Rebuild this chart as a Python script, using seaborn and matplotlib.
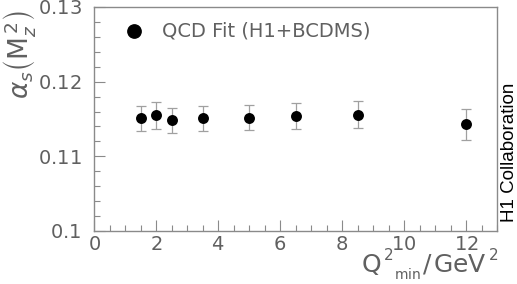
import matplotlib
matplotlib.use("Agg")
import matplotlib.pyplot as plt
import seaborn as sns
import pandas as pd
from matplotlib.ticker import MultipleLocator

q2min = [1.5, 2.0, 2.5, 3.5, 5.0, 6.5, 8.5, 12.0]
alpha_s = [0.1151, 0.1155, 0.1148, 0.1151, 0.1152, 0.1154, 0.1156, 0.1143]
err = [0.0017, 0.0018, 0.0017, 0.0017, 0.0017, 0.0018, 0.0018, 0.0021]
xticks = [0, 2, 4, 6, 8, 10, 12]
yticks = [0.1, 0.11, 0.12, 0.13]
ytick_labels = ["0.1", "0.11", "0.12", "0.13"]
legend_label = "QCD Fit (H1+BCDMS)"

sns.set_style("white")
plt.rcParams['font.family'] = ['DejaVu Sans']
plt.rcParams['mathtext.fontset'] = 'dejavusans'

df = pd.DataFrame({"q2": q2min, "a": alpha_s, "e": err})

fig = plt.figure(figsize=(5.17, 2.84), dpi=100)
W, H = fig.bbox.width, fig.bbox.height
ax = fig.add_axes([94/W, 1 - 231/H, (497-94)/W, (231-7)/H])

axis_col = "#8a8a8a"
text_col = "#606060"

ax.errorbar(df["q2"], df["a"], yerr=df["e"], fmt="none", ecolor="#a0a0a0",
            elinewidth=0.9, capsize=3.6, capthick=0.9, zorder=2)
sns.scatterplot(data=df, x="q2", y="a", ax=ax, color="black", s=62,
                edgecolor="black", linewidth=0, zorder=3, legend=False)

ax.set_xlim(0, 13)
ax.set_ylim(0.1, 0.13)
ax.set_xticks(xticks)
ax.set_xticklabels([f"${t}$" for t in xticks])
ax.set_yticks(yticks)
ax.set_yticklabels([f"${t}$" for t in ytick_labels])
ax.xaxis.set_minor_locator(MultipleLocator(0.5))
ax.yaxis.set_minor_locator(MultipleLocator(0.002))

for s in ax.spines.values():
    s.set_color(axis_col)
    s.set_linewidth(1.0)

ax.tick_params(axis="both", which="major", direction="in", length=8, width=0.8,
               color=axis_col, labelcolor=text_col, labelsize=14)
ax.tick_params(axis="both", which="minor", direction="in", length=4.5, width=0.8,
               color=axis_col)
ax.tick_params(axis="x", which="both", top=False, bottom=True)
ax.tick_params(axis="y", which="both", right=False, left=True)
ax.tick_params(axis="x", which="major", pad=3)
ax.tick_params(axis="y", which="major", pad=9)

ax.set_xlabel("")
ax.set_ylabel("")

fig.text(20/W, 1 - 55/H, r"$\alpha_{s}\left(\mathrm{M}_{z}^{\,2}\right)$", rotation=90,
         ha="center", va="center", fontsize=19, color=text_col)

# x label built from pieces: Q ^2 _min / GeV ^2, laid out right-to-left
renderer = fig.canvas.get_renderer()
base = 272
pieces = [(r"$2$", 11, base - 12), (r"$\mathrm{GeV}$", 18, base),
          (r"$/$", 18, base), (r"$\mathrm{min}$", 10, base + 7),
          (r"$2$", 11, base - 12), (r"$\mathrm{Q}$", 18, base)]
xr = 498
for txt, fs, yb in pieces:
    t = fig.text(xr / W, 1 - yb / H, txt, ha="right", va="baseline",
                 fontsize=fs, color=text_col)
    w = t.get_window_extent(renderer).width
    xr = xr - w - 1

fig.text(510/W, 1 - 222/H, "H1 Collaboration", rotation=90, ha="center",
         va="bottom", fontsize=13.5, color="black", family="Liberation Sans")

# legend
ax.scatter([1.3], [0.1268], s=92, color="black", zorder=3)
ax.text(2.2, 0.1268, legend_label, ha="left", va="center", fontsize=14, color=text_col)

fig.savefig("out.png", dpi=100)
